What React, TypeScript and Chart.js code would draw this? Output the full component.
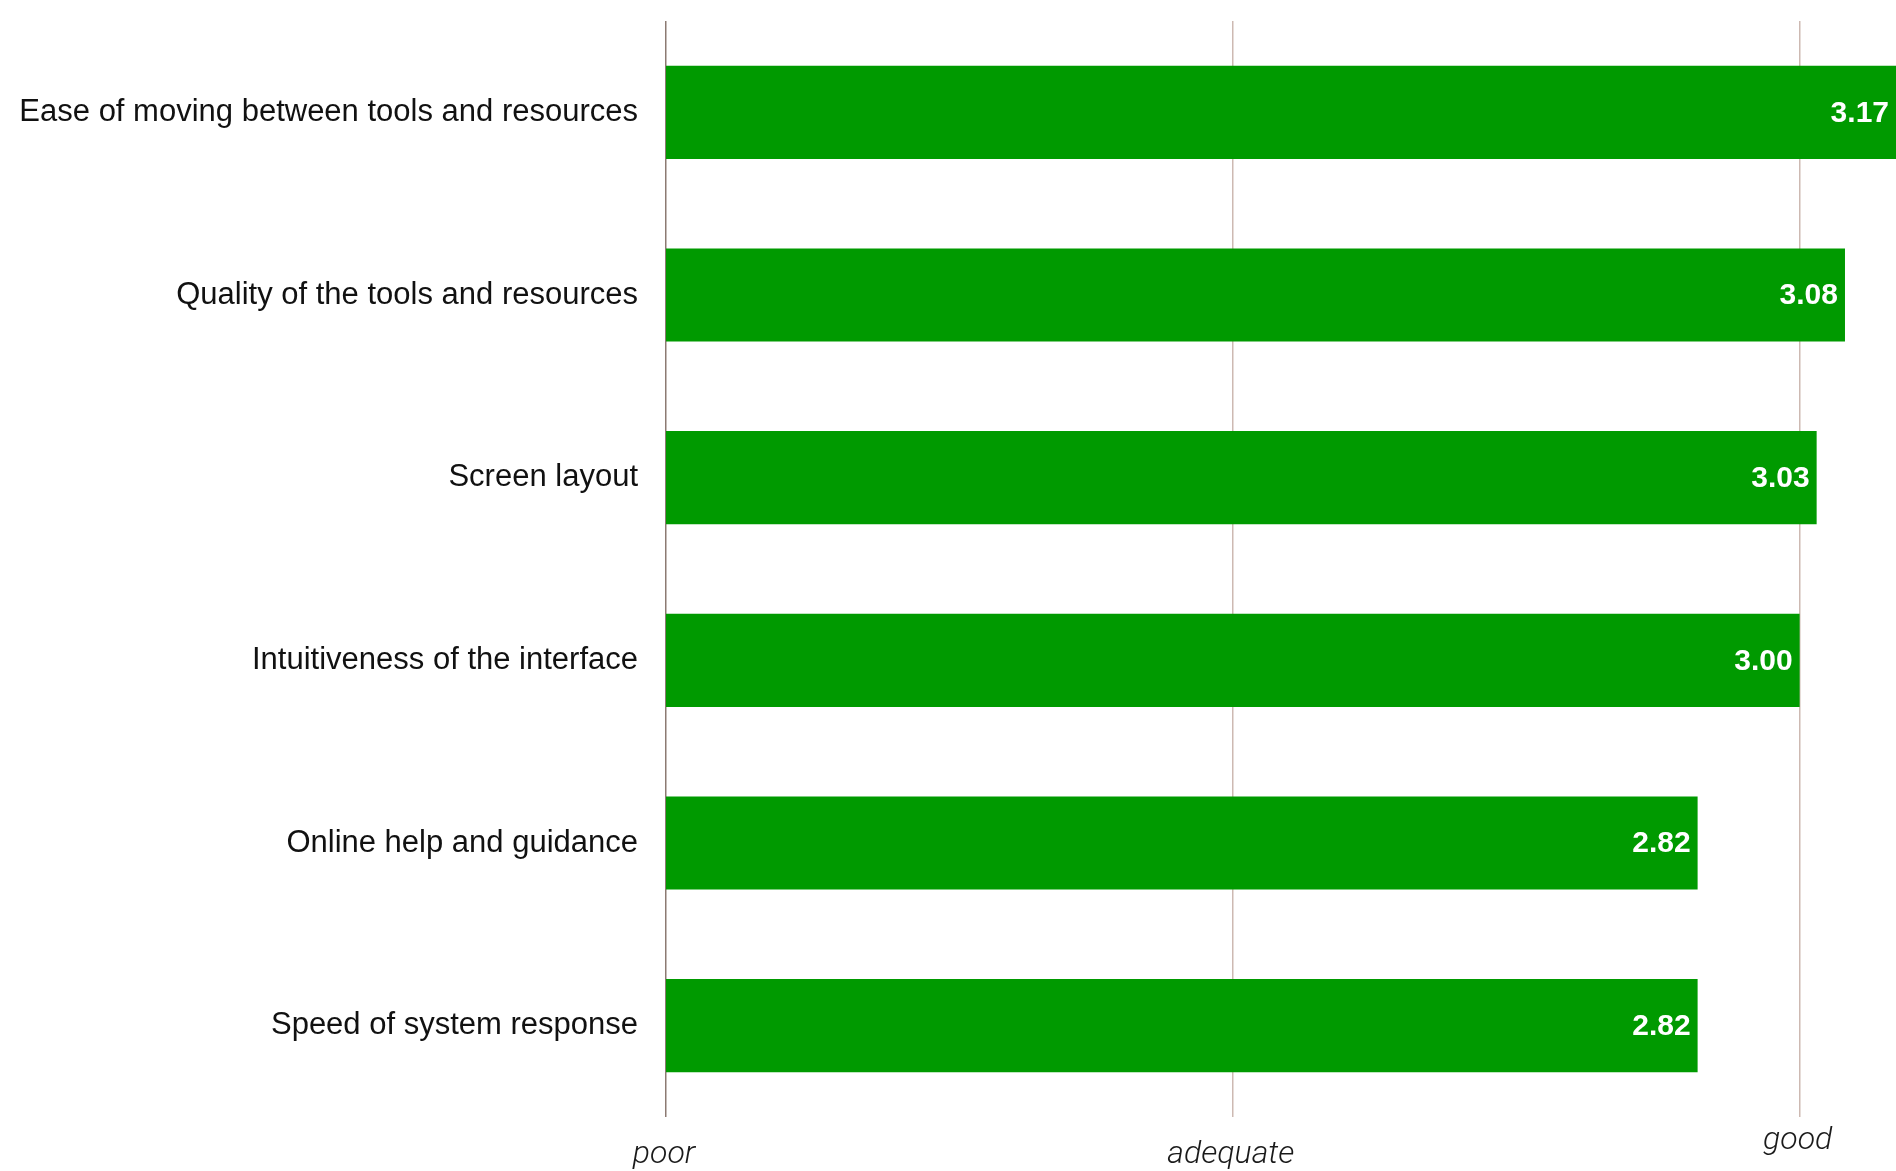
import React, { useEffect, useRef } from "react";
import { Chart, registerables } from "chart.js";

Chart.register(...registerables);

const categories = [
  "Ease of moving between tools and resources",
  "Quality of the tools and resources",
  "Screen layout",
  "Intuitiveness of the interface",
  "Online help and guidance",
  "Speed of system response",
];
const scores = [3.17, 3.08, 3.03, 3.0, 2.82, 2.82];
const tickValues = [1, 2, 3];
const tickLabels = ["poor", "adequate", "good"];

const W = 1896;
const H = 1171;

export default function App() {
  const ref = useRef<HTMLCanvasElement | null>(null);

  useEffect(() => {
    if (!ref.current) return;

    const valueLabels = {
      id: "valueLabels",
      afterDatasetsDraw(chart: any) {
        const ctx = chart.ctx;
        const meta = chart.getDatasetMeta(0);
        ctx.save();
        ctx.fillStyle = "#ffffff";
        ctx.font = "bold 30px 'Liberation Sans', Arial, sans-serif";
        ctx.textAlign = "right";
        ctx.textBaseline = "middle";
        meta.data.forEach((bar: any, i: number) => {
          ctx.fillText(scores[i].toFixed(2), bar.x - 7, bar.y + 1);
        });
        ctx.restore();
      },
    };

    const xLabels = {
      id: "xLabels",
      afterDraw(chart: any) {
        const ctx = chart.ctx;
        const xs = chart.scales.x;
        const yOffsets = [1155, 1155, 1141];
        ctx.save();
        ctx.fillStyle = "#1a1a1a";
        ctx.font = "italic 300 32px Roboto, 'Liberation Sans', sans-serif";
        ctx.textAlign = "center";
        ctx.textBaseline = "middle";
        tickValues.forEach((v, i) => {
          ctx.fillText(tickLabels[i], xs.getPixelForValue(v) - 2, yOffsets[i]);
        });
        ctx.restore();
      },
    };

    const chart = new Chart(ref.current, {
      type: "bar",
      data: {
        labels: categories,
        datasets: [
          {
            data: scores,
            backgroundColor: "#009a00",
            borderWidth: 0,
            barPercentage: 0.51,
            categoryPercentage: 1,
          },
        ],
      },
      options: {
        indexAxis: "y",
        responsive: false,
        animation: false,
        layout: { padding: { top: 21, right: 0, left: 0, bottom: 0 } },
        plugins: {
          legend: { display: false },
          tooltip: { enabled: false },
        },
        scales: {
          x: {
            type: "linear",
            min: 1,
            max: 3.17,
            afterBuildTicks(scale: any) {
              scale.ticks = tickValues.map((v) => ({ value: v }));
            },
            afterFit(scale: any) {
              scale.height = H - 1117;
              scale.paddingLeft = 0;
              scale.paddingRight = 0;
            },
            ticks: { display: false },
            grid: {
              display: true,
              drawTicks: false,
              lineWidth: 1.5,
              color: (c: any) =>
                c.tick && c.tick.value === 1 ? "#8c7a72" : "#cdb9b2",
            },
            border: { display: false },
          },
          y: {
            afterFit(scale: any) {
              scale.width = 666;
              scale.paddingTop = 0;
              scale.paddingBottom = 0;
            },
            ticks: {
              padding: 28,
              color: "#111111",
              font: {
                family: "'Liberation Sans', Arial, sans-serif",
                size: 31,
              },
            },
            grid: { display: false, drawTicks: false },
            border: { display: false },
          },
        },
      },
      plugins: [valueLabels, xLabels],
    });

    return () => chart.destroy();
  }, []);

  return (
    <div
      style={{
        position: "absolute",
        left: 0,
        top: 0,
        width: W,
        height: H,
        background: "#ffffff",
      }}
    >
      <canvas ref={ref} width={W} height={H} style={{ display: "block" }} />
    </div>
  );
}
